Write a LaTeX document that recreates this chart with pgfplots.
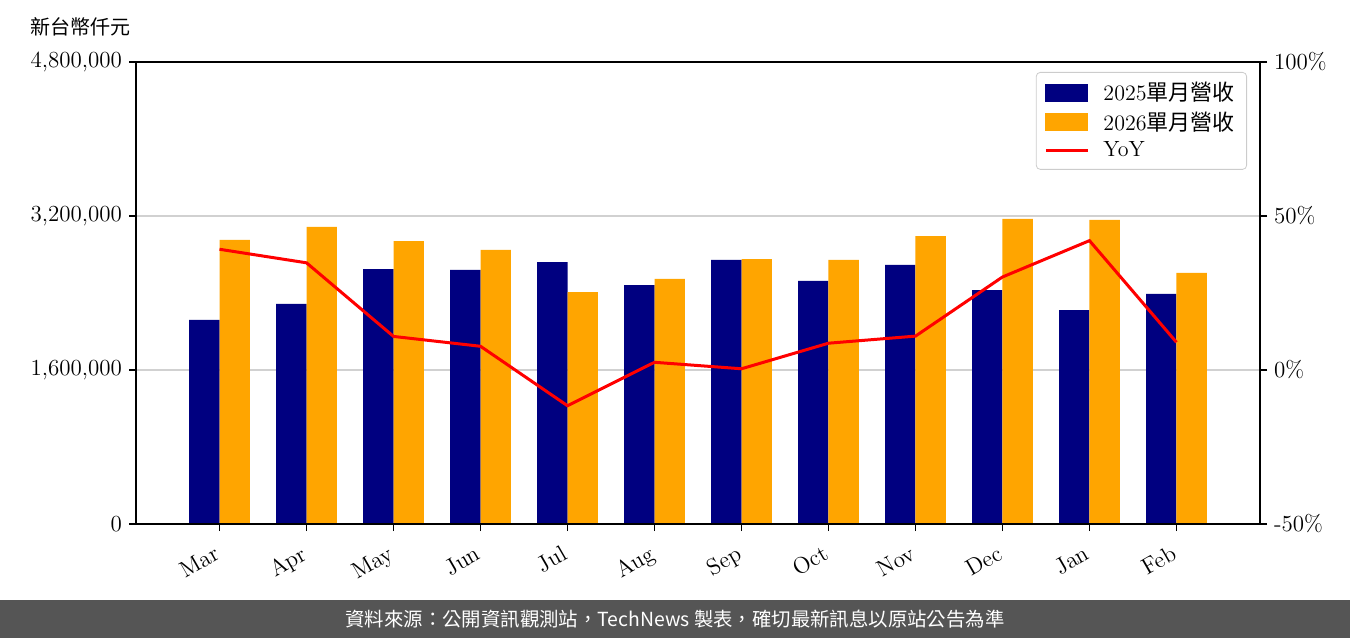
\documentclass[border=0pt]{standalone}
\usepackage{fontspec}
\usepackage{pgfplots}
\usepackage{pgfplotstable}
\pgfplotsset{compat=1.18}
\newfontfamily\cjk{Noto Sans CJK TC}

\definecolor{navy}{HTML}{000080}
\definecolor{orng}{HTML}{FFA500}
\definecolor{banner}{HTML}{555555}

% monthly revenue (NT$ thousand) and YoY (%)
\pgfplotstableread{
idx mon y2025   y2026   yoy
0   Mar 2120000 2951000 39.2
1   Apr 2286000 3086000 34.8
2   May 2649000 2940000 10.9
3   Jun 2639000 2847000 7.7
4   Jul 2722000 2410000 -11.6
5   Aug 2483000 2546000 2.5
6   Sep 2743000 2753000 0.4
7   Oct 2525000 2743000 8.7
8   Nov 2691000 2992000 11.0
9   Dec 2431000 3169000 30.2
10  Jan 2223000 3159000 42.0
11  Feb 2390000 2608000 9.0
}\datatable

\pgfplotsset{
  base/.style={
    at={(68pt,57pt)}, anchor=south west,
    scale only axis, width=562pt, height=231pt,
    xmin=-0.96, xmax=11.96,
    axis line style={line width=1pt},
    tick align=outside,
    major tick length=3.5pt,
    every tick/.style={black, line width=0.8pt},
    tick label style={font=\fontsize{11.5}{13}\selectfont,
      /pgf/number format/assume math mode=true},
  }
}

\begin{document}
\begin{tikzpicture}
\useasboundingbox (0,0) rectangle (675pt,319pt);
\fill[banner] (0,0) rectangle (675pt,19pt);
\node[text=white, font=\cjk\fontsize{9.7}{11}\selectfont] at (337.5pt,9.5pt)
  {資料來源：公開資訊觀測站，TechNews 製表，確切最新訊息以原站公告為準};
\node[font=\cjk\fontsize{10}{12}\selectfont] at (40.5pt,305.5pt) {新台幣仟元};

\begin{axis}[base,
  ymin=0, ymax=4800000,
  ytick={0,1600000,3200000,4800000},
  scaled y ticks=false,
  yticklabel style={/pgf/number format/.cd, fixed, 1000 sep={,}},
  ymajorgrids, grid style={black!18, line width=0.8pt},
  xtick={0,...,11},
  xticklabels={Mar,Apr,May,Jun,Jul,Aug,Sep,Oct,Nov,Dec,Jan,Feb},
  xticklabel style={rotate=30, anchor=north east, inner sep=2pt,
    xshift=-4pt, yshift=-2pt},
  xtick pos=left, ytick pos=left,
  ybar, bar width=0.35,
]
\addplot[fill=navy, draw=none, bar shift=-0.175] table[x=idx, y=y2025] {\datatable};
\addplot[fill=orng, draw=none, bar shift=0.175] table[x=idx, y=y2026] {\datatable};
\end{axis}

\begin{axis}[base,
  ymin=-50, ymax=100,
  ytick={-50,0,50,100},
  yticklabel={\pgfmathprintnumber{\tick}\%},
  xtick=\empty, ytick pos=right,
  legend cell align=left,
  legend style={at={(1,1)}, anchor=north east, xshift=-6.5pt, yshift=-5pt,
    draw=black!20, rounded corners=2pt, fill=white,
    font=\fontsize{11}{13}\selectfont, row sep=0pt,
    inner xsep=4pt, inner ysep=3pt,
    /tikz/every odd column/.append style={column sep=5pt}},
]
\addlegendimage{legend image code/.code={\fill[navy, sharp corners] (0pt,-4pt) rectangle (21pt,4.5pt);}}
\addlegendentry{2025{\cjk 單月營收}}
\addlegendimage{legend image code/.code={\fill[orng, sharp corners] (0pt,-4pt) rectangle (21pt,4.5pt);}}
\addlegendentry{2026{\cjk 單月營收}}
\addplot[red, line width=1.5pt, mark=none,
  legend image code/.code={\draw[red, line width=1.6pt, sharp corners] (0pt,0pt) -- (21pt,0pt);}]
  table[x=idx, y=yoy] {\datatable};
\addlegendentry{YoY}
\end{axis}
\end{tikzpicture}
\end{document}
